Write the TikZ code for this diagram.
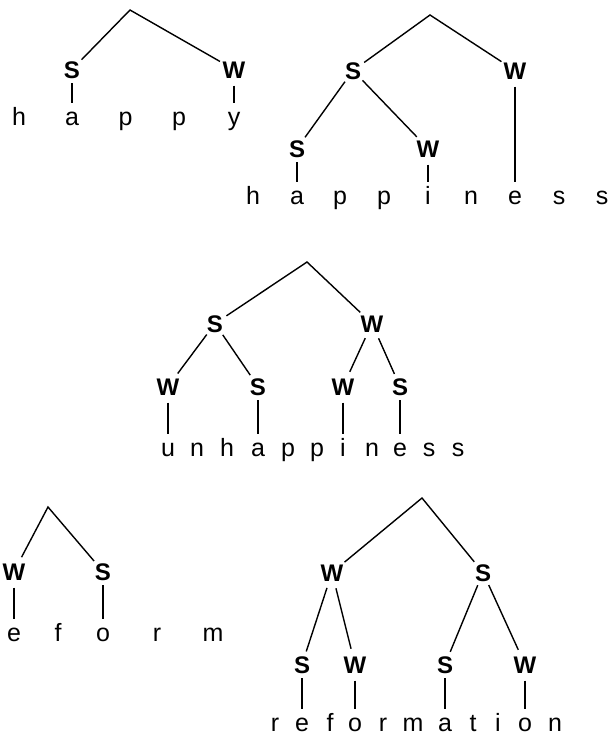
\documentclass[tikz,border=0pt]{standalone}
\usepackage{fontspec}
\setmainfont{Liberation Sans}
\tikzset{
  lab/.style={circle, inner sep=1.3pt, text height=17.2pt, text depth=0pt,
    font=\fontsize{24}{28}\selectfont\bfseries},
  seg/.style={rectangle, inner xsep=1pt, inner ysep=1pt, text height=17.9pt,
    text depth=0pt, font=\fontsize{25}{29}\selectfont},
  br/.style={line width=1.4pt, line join=miter},
  stem/.style={br, shorten >=4pt},
}
\begin{document}
\begin{tikzpicture}[x=1pt, y=-1pt]
\useasboundingbox (0,0) rectangle (613,738);

% happy
\foreach \c/\x [count=\i] in {h/19,a/72,p/125.5,p/179,y/234}
  \node[seg] (a\i) at (\x,117) {\c};
\coordinate (aR) at (130,10);
\node[lab] (aS) at (72,69.5) {S};
\node[lab] (aW) at (234,69.5) {W};
\draw[br] (aS) -- (aR) -- (aW);
\draw[stem] (aS) -- (a2);
\draw[stem] (aW) -- (a5);

% happiness
\foreach \c/\x [count=\i] in {h/253,a/297,p/340,p/384,i/428,n/471,e/515,s/559,s/602}
  \node[seg] (b\i) at (\x,196) {\c};
\coordinate (bR) at (430,15);
\node[lab] (bS) at (353,70.5) {S};
\node[lab] (bW) at (515,70.5) {W};
\node[lab] (bSS) at (297,148.5) {S};
\node[lab] (bSW) at (428,148.5) {W};
\draw[br] (bS) -- (bR) -- (bW);
\draw[br] (bS) -- (bSS);
\draw[br] (bS) -- (bSW);
\draw[stem] (bSS) -- (b2);
\draw[stem] (bSW) -- (b5);
\draw[stem] (bW) -- (b7);

% unhappiness
\foreach \c/\x [count=\i] in {u/168,n/197,h/227,a/258,p/288,p/317,i/343,n/372,e/400,s/429,s/458}
  \node[seg] (c\i) at (\x,448) {\c};
\coordinate (cR) at (307,262);
\node[lab] (cS) at (215,323.5) {S};
\node[lab] (cW) at (372,323.5) {W};
\node[lab] (cSW) at (168,386.5) {W};
\node[lab] (cSS) at (258,386.5) {S};
\node[lab] (cWW) at (343,386.5) {W};
\node[lab] (cWS) at (400,386.5) {S};
\draw[br] (cS) -- (cR) -- (cW);
\draw[br] (cS) -- (cSW);
\draw[br] (cS) -- (cSS);
\draw[br] (cW) -- (cWW);
\draw[br] (cW) -- (cWS);
\draw[stem] (cSW) -- (c1);
\draw[stem] (cSS) -- (c4);
\draw[stem] (cWW) -- (c7);
\draw[stem] (cWS) -- (c9);

% (r)eform
\foreach \c/\x [count=\i] in {e/14,f/58,o/103,r/157,m/213}
  \node[seg] (d\i) at (\x,633) {\c};
\coordinate (dR) at (48,507);
\node[lab] (dW) at (14,571.5) {W};
\node[lab] (dS) at (103,571.5) {S};
\draw[br] (dW) -- (dR) -- (dS);
\draw[stem] (dW) -- (d1);
\draw[stem] (dS) -- (d3);

% reformation
\foreach \c/\x [count=\i] in {r/275,e/302,f/330,o/355,r/383,m/413,a/445,t/473,i/498,o/525,n/555}
  \node[seg] (e\i) at (\x,723) {\c};
\coordinate (eR) at (422,498);
\node[lab] (eW) at (332,572.5) {W};
\node[lab] (eS) at (483,572.5) {S};
\node[lab] (eWS) at (302,664.5) {S};
\node[lab] (eWW) at (355,664.5) {W};
\node[lab] (eSS) at (445,664.5) {S};
\node[lab] (eSW) at (525,664.5) {W};
\draw[br] (eW) -- (eR) -- (eS);
\draw[br] (eW) -- (eWS);
\draw[br] (eW) -- (eWW);
\draw[br] (eS) -- (eSS);
\draw[br] (eS) -- (eSW);
\draw[stem] (eWS) -- (e2);
\draw[stem] (eWW) -- (e4);
\draw[stem] (eSS) -- (e7);
\draw[stem] (eSW) -- (e10);
\end{tikzpicture}
\end{document}
